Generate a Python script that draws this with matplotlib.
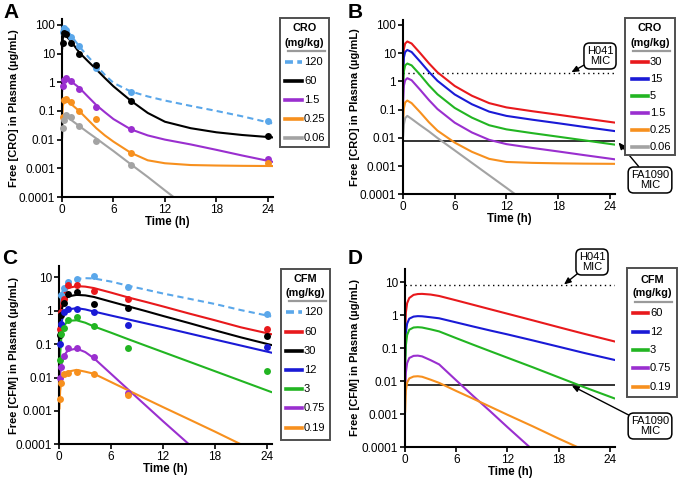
import numpy as np
import matplotlib
matplotlib.use("Agg")
import matplotlib.pyplot as plt
from matplotlib.patches import Rectangle
from matplotlib.lines import Line2D

plt.rcParams['font.family'] = ['Liberation Sans', 'DejaVu Sans']
nan = np.nan

# ---------------- Panel A: CRO observed + fitted ----------------
a_doses = ["120", "60", "1.5", "0.25", "0.06"]
a_colors = ["#5aa7ea", "#000000", "#9a2fcf", "#f7901e", "#a3a3a3"]
a_obs_t = [0.083, 0.25, 0.5, 1, 2, 4, 8, 24]
a_obs_120 = [55, 75, 65, 38, 18, 3.2, 0.47, 0.043]
a_obs_60 = [23, 51, 47, 23, 10, 4.0, 0.23, 0.013]
a_obs_1p5 = [0.74, 1.2, 1.4, 1.1, 0.6, 0.14, 0.023, 0.0021]
a_obs_0p25 = [0.063, 0.24, 0.26, 0.21, 0.10, 0.053, 0.0034, 0.0015]
a_obs_0p06 = [0.026, 0.05, 0.072, 0.06, 0.031, 0.0093, 0.0013, nan]
a_fit_t = [0.02, 0.1, 0.25, 0.5, 1, 2, 3, 4, 5, 6, 8, 10, 12, 15, 18, 21, 24.5]
a_fit_120 = [20, 60, 75, 68, 45, 18, 8, 3.8, 1.8, 0.95, 0.48, 0.32, 0.23, 0.15, 0.1, 0.065, 0.037]
a_fit_60 = [15, 35, 42, 40, 28, 11, 5.5, 2.8, 1.4, 0.72, 0.23, 0.085, 0.042, 0.025, 0.018, 0.0145, 0.012]
a_fit_1p5 = [0.5, 1.0, 1.25, 1.3, 1.1, 0.65, 0.32, 0.16, 0.09, 0.052, 0.023, 0.014, 0.01, 0.0068, 0.0044, 0.0028, 0.0017]
a_fit_0p25 = [0.05, 0.15, 0.21, 0.22, 0.18, 0.1, 0.05, 0.025, 0.014, 0.0085, 0.0035, 0.0019, 0.0015, 0.0013, 0.00125, 0.00122, 0.0012]
a_fit_0p06 = [0.012, 0.035, 0.055, 0.065, 0.05, 0.03, 0.018, 0.011, 0.0066, 0.004, 0.0014, 0.0005, 0.00017, 0.000035, 0.000007, 0.0000015, 0.0000003]

# ---------------- Panel B: CRO simulated ----------------
b_doses = ["30", "15", "5", "1.5", "0.25", "0.06"]
b_colors = ["#e8191c", "#1a1ad6", "#22b522", "#9a2fcf", "#f7901e", "#a3a3a3"]
b_t = [0.02, 0.1, 0.25, 0.5, 1, 2, 3, 4, 6, 8, 10, 12, 15, 18, 21, 24.5]
b_30 = [4, 14, 22, 26, 22, 10, 4.4, 2.1, 0.69, 0.31, 0.17, 0.12, 0.088, 0.066, 0.049, 0.035]
b_15 = [2, 7, 11, 13, 11, 5, 2.2, 1.05, 0.345, 0.155, 0.085, 0.06, 0.044, 0.033, 0.0245, 0.0175]
b_5 = [0.67, 2.3, 3.7, 4.3, 3.7, 1.7, 0.73, 0.35, 0.115, 0.052, 0.028, 0.02, 0.0147, 0.011, 0.0082, 0.0058]
b_1p5 = [0.2, 0.7, 1.1, 1.3, 1.1, 0.5, 0.22, 0.105, 0.0345, 0.0155, 0.0085, 0.006, 0.0044, 0.0033, 0.00245, 0.00175]
b_0p25 = [0.04, 0.11, 0.18, 0.21, 0.17, 0.08, 0.036, 0.018, 0.0068, 0.0032, 0.0018, 0.0014, 0.0013, 0.00125, 0.00122, 0.0012]
b_0p06 = [0.012, 0.03, 0.05, 0.06, 0.047, 0.028, 0.017, 0.0099, 0.0036, 0.0013, 0.00047, 0.00017, 0.000036, 0.0000078, 0.0000017, 0.0000003]
cro_h041_mic = 2
fa1090_mic = 0.0075

# ---------------- Panel C: CFM observed + fitted ----------------
c_doses = ["120", "60", "30", "12", "3", "0.75", "0.19"]
c_colors = ["#5aa7ea", "#e8191c", "#000000", "#1a1ad6", "#22b522", "#9a2fcf", "#f7901e"]
c_obs_t = [0.083, 0.25, 0.5, 1, 2, 4, 8, 24]
c_obs_120 = [nan, 3.0, 4.9, 7.4, 8.7, 11, 5.0, 0.8]
c_obs_60 = [0.28, 0.9, 2.2, 6.0, 6.0, 3.9, 2.3, 0.28]
c_obs_30 = [0.19, 0.74, 1.66, 3.1, 3.7, 1.6, 1.23, 0.17]
c_obs_12 = [0.1, 0.4, 0.95, 1.1, 1.15, 0.95, 0.38, 0.085]
c_obs_3 = [0.034, 0.2, 0.3, 0.54, 0.63, 0.34, 0.079, 0.016]
c_obs_0p75 = [0.0095, 0.021, 0.045, 0.076, 0.076, 0.04, 0.0035, nan]
c_obs_0p19 = [0.0023, 0.0068, 0.013, 0.014, 0.015, 0.013, 0.003, nan]
c_fit_t = [0.02, 0.1, 0.25, 0.5, 1, 2, 3, 4, 6, 8, 10, 12, 15, 18, 21, 24.5]
c_fit_120 = [0.8, 1.5, 3.0, 5.0, 7.3, 9.0, 9.5, 9.3, 7.5, 5.6, 4.3, 3.3, 2.3, 1.6, 1.05, 0.68]
c_fit_60 = [0.2, 0.8, 1.8, 3.2, 4.8, 5.5, 5.3, 4.8, 3.5, 2.5, 1.85, 1.35, 0.83, 0.52, 0.32, 0.2]
c_fit_30 = [0.1, 0.4, 1.0, 1.8, 2.7, 3.0, 2.9, 2.6, 1.87, 1.35, 0.98, 0.70, 0.43, 0.26, 0.16, 0.095]
c_fit_12 = [0.05, 0.2, 0.45, 0.8, 1.1, 1.2, 1.1, 0.95, 0.72, 0.55, 0.42, 0.32, 0.21, 0.138, 0.091, 0.056]
c_fit_3 = [0.01, 0.05, 0.18, 0.35, 0.5, 0.52, 0.44, 0.34, 0.22, 0.14, 0.09, 0.058, 0.03, 0.0155, 0.008, 0.0037]
c_fit_0p75 = [0.003, 0.012, 0.025, 0.045, 0.065, 0.074, 0.058, 0.038, 0.0128, 0.0043, 0.00145, 0.00049, 0.0001, 0.00002, 0.000004, 0.0000006]
c_fit_0p19 = [0.0012, 0.004, 0.008, 0.012, 0.015, 0.017, 0.015, 0.013, 0.0073, 0.0041, 0.0023, 0.0013, 0.00056, 0.00024, 0.0001, 0.000037]

# ---------------- Panel D: CFM simulated ----------------
d_doses = ["60", "12", "3", "0.75", "0.19"]
d_colors = ["#e8191c", "#1a1ad6", "#22b522", "#9a2fcf", "#f7901e"]
d_t = [0.02, 0.1, 0.25, 0.5, 1, 1.5, 2, 3, 4, 6, 8, 10, 12, 15, 18, 21, 24.5]
d_60 = [0.3, 1.2, 2.3, 3.3, 4.1, 4.35, 4.4, 4.2, 3.8, 2.8, 2.05, 1.5, 1.1, 0.69, 0.43, 0.27, 0.16]
d_12 = [0.06, 0.3, 0.55, 0.78, 0.9, 0.93, 0.92, 0.86, 0.8, 0.6, 0.45, 0.34, 0.26, 0.17, 0.11, 0.071, 0.044]
d_3 = [0.02, 0.12, 0.25, 0.36, 0.42, 0.43, 0.42, 0.37, 0.32, 0.2, 0.126, 0.08, 0.051, 0.026, 0.013, 0.0065, 0.003]
d_0p75 = [0.004, 0.018, 0.035, 0.05, 0.058, 0.059, 0.056, 0.043, 0.032, 0.0105, 0.0035, 0.0012, 0.0004, 0.00008, 0.000015, 0.000003, 0.0000004]
d_0p19 = [0.0012, 0.005, 0.009, 0.012, 0.0137, 0.014, 0.0135, 0.011, 0.0088, 0.005, 0.0029, 0.00166, 0.00095, 0.00042, 0.00018, 0.00008, 0.00003]
cfm_h041_mic = 8

y_ticks = [0.0001, 0.001, 0.01, 0.1, 1, 10, 100]
y_ticklabels = ["0.0001", "0.001", "0.01", "0.1", "1", "10", "100"]
x_ticks = [0, 6, 12, 18, 24]

W, H = 680, 480
fig = plt.figure(figsize=(W / 100, H / 100), dpi=100)


def rect(l, t, r, b):
    return [l / W, 1 - b / H, (r - l) / W, (b - t) / H]


def fx(x):
    return x / W


def fy(y):
    return 1 - y / H


def style_axes(ax, ytop, ylabel, ylab_x, xmax=24.6):
    ax.set_yscale('log')
    ax.set_ylim(0.0001, ytop)
    ax.set_xlim(0, xmax)
    yt = [v for v in y_ticks if v <= ytop]
    ax.set_yticks(yt)
    ax.set_yticklabels([y_ticklabels[y_ticks.index(v)] for v in yt])
    ax.yaxis.set_minor_locator(matplotlib.ticker.NullLocator())
    ax.set_xticks(x_ticks)
    for s in ['top', 'right']:
        ax.spines[s].set_visible(False)
    for s in ['left', 'bottom']:
        ax.spines[s].set_linewidth(1.5)
    ax.tick_params(direction='out', length=3.5, width=1.2, labelsize=8.5, pad=1.5)
    ax.set_xlabel("Time (h)", fontsize=8.3, fontweight='bold')
    ax.set_ylabel(ylabel, fontsize=8, fontweight='bold')
    ax.yaxis.set_label_coords(ylab_x, 0.5)
    ax.xaxis.set_label_coords(0.5, -0.105)


def draw_legend(box, title, lines_y, title_y, ul_y, line_x, label_x, labels, colors, dashed_first=False):
    x0, y0, x1, y1 = box
    fig.add_artist(Rectangle((fx(x0), fy(y1)), fx(x1) - fx(x0), fy(y0) - fy(y1),
                             transform=fig.transFigure, fill=True, fc='white',
                             ec='#505050', lw=1.4))
    cx = (x0 + x1) / 2
    fig.text(fx(cx), fy(title_y[0]), title, ha='center', va='center', fontsize=7.8, fontweight='bold')
    fig.text(fx(cx), fy(title_y[1]), "(mg/kg)", ha='center', va='center', fontsize=7.8, fontweight='bold')
    fig.add_artist(Line2D([fx(ul_y[0]), fx(ul_y[1])], [fy(ul_y[2]), fy(ul_y[2])],
                          transform=fig.transFigure, color='#9a9a9a', lw=1.6))
    for i, (lab, col, y) in enumerate(zip(labels, colors, lines_y)):
        ls = (0, (2.2, 1.2)) if (dashed_first and i == 0) else '-'
        fig.add_artist(Line2D([fx(line_x[0]), fx(line_x[1])], [fy(y), fy(y)],
                              transform=fig.transFigure, color=col, lw=2.6, ls=ls))
        fig.text(fx(label_x), fy(y), lab, ha='left', va='center', fontsize=8)


lw = 1.5
ms = 5

# ---- Panel A ----
axA = fig.add_axes(rect(62, 19, 273, 197))
a_fits = [a_fit_120, a_fit_60, a_fit_1p5, a_fit_0p25, a_fit_0p06]
a_obs = [a_obs_120, a_obs_60, a_obs_1p5, a_obs_0p25, a_obs_0p06]
for i, (fit, obs, col) in enumerate(zip(a_fits, a_obs, a_colors)):
    axA.plot(a_fit_t, fit, color=col, lw=lw, ls=(0, (3, 2)) if i == 0 else '-', zorder=2)
    axA.plot(a_obs_t, obs, 'o', color=col, ms=ms, mec='none', zorder=3, clip_on=False)
style_axes(axA, 160, "Free [CRO] in Plasma (µg/mL)", -0.204)
draw_legend((280, 18, 329, 147), "CRO", [62, 81, 100, 119, 138], (28, 43), (288, 325, 51),
            (285, 302), 304, a_doses, a_colors, dashed_first=True)

# ---- Panel B ----
axB = fig.add_axes(rect(403, 20, 615, 194.3))
for vals, col in zip([b_30, b_15, b_5, b_1p5, b_0p25, b_0p06], b_colors):
    axB.plot(b_t, vals, color=col, lw=lw, zorder=2)
axB.axhline(cro_h041_mic, color='black', lw=1.0, ls=(0, (1, 2.5)), zorder=1.5)
axB.axhline(fa1090_mic, color='#333333', lw=1.4, zorder=1.5)
style_axes(axB, 150, "Free [CRO] in Plasma (µg/mL)", -0.203)
draw_legend((625, 18, 675, 155), "CRO", [62, 79, 96, 113, 130, 147], (28, 43), (633, 670, 51),
            (632, 648), 650, b_doses, b_colors)

# ---- Panel C ----
axC = fig.add_axes(rect(59.3, 266, 272, 444.3))
c_fits = [c_fit_120, c_fit_60, c_fit_30, c_fit_12, c_fit_3, c_fit_0p75, c_fit_0p19]
c_obs = [c_obs_120, c_obs_60, c_obs_30, c_obs_12, c_obs_3, c_obs_0p75, c_obs_0p19]
for i, (fit, obs, col) in enumerate(zip(c_fits, c_obs, c_colors)):
    axC.plot(c_fit_t, fit, color=col, lw=lw, ls=(0, (3, 2)) if i == 0 else '-', zorder=2)
    axC.plot(c_obs_t, obs, 'o', color=col, ms=ms, mec='none', zorder=3, clip_on=False)
style_axes(axC, 22, "Free [CFM] in Plasma (µg/mL)", -0.19)
draw_legend((281, 269, 330, 440), "CFM", [312, 332, 351, 370, 389, 408, 428], (279, 293),
            (289, 326, 301), (286, 302), 304, c_doses, c_colors, dashed_first=True)

# ---- Panel D ----
axD = fig.add_axes(rect(405, 269, 615, 447))
for vals, col in zip([d_60, d_12, d_3, d_0p75, d_0p19], d_colors):
    axD.plot(d_t, vals, color=col, lw=lw, zorder=2)
axD.axhline(cfm_h041_mic, color='black', lw=1.0, ls=(0, (1, 2.5)), zorder=1.5)
axD.axhline(fa1090_mic, color='#333333', lw=1.4, zorder=1.5)
style_axes(axD, 25, "Free [CFM] in Plasma (µg/mL)", -0.214)
draw_legend((627, 268, 677, 397), "CFM", [313, 332, 350, 368, 387], (280, 293), (635, 672, 302),
            (633, 648), 650, d_doses, d_colors)

# ---- MIC annotations ----
bbox = dict(boxstyle='round,pad=0.25,rounding_size=0.5', fc='white', ec='black', lw=1.1)
arrow = dict(arrowstyle='-|>,head_length=0.5,head_width=0.22', color='black', lw=1.0,
             shrinkA=0, shrinkB=1)


def mic_note(ax, text, xy, cx, cy):
    ax.annotate(text, xy=xy, xycoords='data', xytext=(cx, H - cy), textcoords='figure pixels',
                ha='center', va='center', fontsize=8, linespacing=1.05, bbox=bbox,
                arrowprops=arrow, annotation_clip=False, zorder=5)


mic_note(axB, "H041\nMIC", (19.4, cro_h041_mic), 600, 56)
mic_note(axB, "FA1090\nMIC", (24.9, fa1090_mic), 650, 180)
mic_note(axD, "H041\nMIC", (18.5, cfm_h041_mic), 592, 262)
mic_note(axD, "FA1090\nMIC", (19.4, fa1090_mic), 650, 426)

# ---- Panel letters ----
for lab, x, y in [("A", 11, 12), ("B", 355, 12), ("C", 10, 259), ("D", 355, 258)]:
    fig.text(fx(x), fy(y), lab, ha='center', va='center', fontsize=15, fontweight='bold')

fig.savefig("out.png", dpi=100)
